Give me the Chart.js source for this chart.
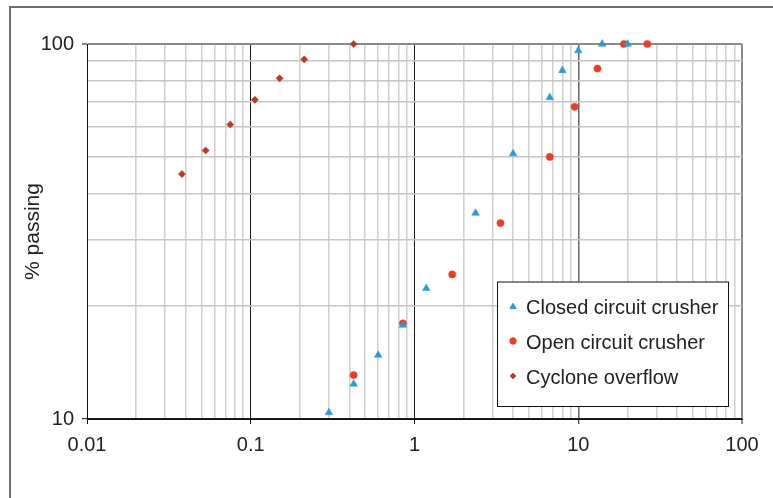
<!DOCTYPE html>
<html>
<head>
<meta charset="utf-8">
<script src="https://cdn.jsdelivr.net/npm/chart.js@4.4.1/dist/chart.umd.min.js"></script>
<style>
  html, body { margin: 0; padding: 0; background: #fff; }
  #wrap { width: 773px; height: 498px; }
</style>
</head>
<body>
<div id="wrap"><canvas id="c" width="773" height="498"></canvas></div>
<script>
// Particle size distributions: size (x) vs cumulative % passing (y)
const closedX = [0.3, 0.425, 0.6, 0.85, 1.18, 2.36, 4.0, 6.7, 8.0, 10.0, 14.0, 20.0];
const closedY = [10.4, 12.4, 14.8, 17.8, 22.3, 35.4, 51, 72, 85, 96, 100, 100];

const openX = [0.425, 0.85, 1.7, 3.35, 6.7, 9.5, 13.1, 19.0, 26.4];
const openY = [13.1, 18.0, 24.3, 33.3, 50, 68, 86, 100, 100];

const cycloneX = [0.038, 0.053, 0.075, 0.106, 0.15, 0.212, 0.425];
const cycloneY = [45, 52, 61, 71, 81, 91, 100];

const seriesNames = ['Closed circuit crusher', 'Open circuit crusher', 'Cyclone overflow'];

const xTickLabels = ['0.01', '0.1', '1', '10', '100'];
const yTickLabels = ['10', '100'];

const FONT = "'Liberation Sans', Arial, Helvetica, sans-serif";

function pts(xs, ys) { return xs.map((x, i) => ({ x: x, y: ys[i] })); }

// log ticks at 1..9 times each decade, labelled only at decades
function logTicks(labels) {
  const out = [];
  labels.forEach((lab, d) => {
    const base = parseFloat(lab);
    const last = d === labels.length - 1;
    for (let m = 1; m <= (last ? 1 : 9); m++) {
      out.push({ value: base * m, decade: m === 1, label: m === 1 ? lab : '' });
    }
  });
  return out;
}

const frame = {
  id: 'frame',
  beforeDraw(chart) {
    const ctx = chart.ctx;
    ctx.save();
    ctx.fillStyle = '#fff';
    ctx.fillRect(0, 0, chart.width, chart.height);
    ctx.strokeStyle = '#6e6e6e';
    ctx.lineWidth = 2;
    ctx.strokeRect(10, 7, chart.width + 20, chart.height + 20);
    ctx.restore();
  }
};

const boxLegend = {
  id: 'boxLegend',
  afterDraw(chart) {
    const ctx = chart.ctx;
    const x0 = 497, y0 = 281.5, w = 231, h = 124.5;
    ctx.save();
    ctx.fillStyle = '#fff';
    ctx.fillRect(x0, y0, w, h);
    ctx.strokeStyle = '#111';
    ctx.lineWidth = 1;
    ctx.strokeRect(x0 + 0.5, y0 + 0.5, w, h);
    const sizes = [3.6, 3.2, 2.8];
    chart.data.datasets.forEach((ds, i) => {
      const cy = 306 + i * 35;
      ctx.fillStyle = ds.backgroundColor;
      ctx.strokeStyle = ds.borderColor;
      ctx.lineWidth = 1;
      Chart.helpers.drawPoint(ctx, { pointStyle: ds.pointStyle, radius: sizes[i], rotation: 0, borderWidth: 1 }, 513, cy + (i === 0 ? 0.8 : 0));
      ctx.fillStyle = '#222';
      ctx.font = '20px ' + FONT;
      ctx.textBaseline = 'alphabetic';
      ctx.textAlign = 'left';
      ctx.fillText(seriesNames[i], 526, cy + 8.3);
    });
    ctx.restore();
  }
};

const xTicks = logTicks(xTickLabels);
const yTicks = logTicks(yTickLabels);

const near = (a, b) => Math.abs(a - b) < 1e-9;

new Chart(document.getElementById('c'), {
  type: 'scatter',
  data: {
    datasets: [
      {
        label: seriesNames[0],
        data: pts(closedX, closedY),
        pointStyle: 'triangle',
        pointRadius: 4.4,
        backgroundColor: '#2b9bd6',
        borderColor: '#2b9bd6',
        borderWidth: 0.5,
        clip: false
      },
      {
        label: seriesNames[1],
        data: pts(openX, openY),
        pointStyle: 'circle',
        pointRadius: 3.6,
        backgroundColor: '#ef3b26',
        borderColor: '#ef3b26',
        borderWidth: 0.5,
        clip: false
      },
      {
        label: seriesNames[2],
        data: pts(cycloneX, cycloneY),
        pointStyle: 'rectRot',
        pointRadius: 3.6,
        backgroundColor: '#bb3a25',
        borderColor: '#bb3a25',
        borderWidth: 0.5,
        clip: false
      }
    ]
  },
  options: {
    responsive: false,
    animation: false,
    devicePixelRatio: 1,
    layout: { padding: { left: 0, top: 44, right: 31, bottom: 0 } },
    plugins: {
      legend: { display: false },
      tooltip: { enabled: false }
    },
    scales: {
      x: {
        type: 'logarithmic',
        min: 0.01,
        max: 100,
        afterBuildTicks(scale) { scale.ticks = xTicks.map(t => ({ value: t.value, decade: t.decade, label: t.label })); },
        afterFit(scale) { scale.height = 79; },
        border: { display: true, color: '#111', width: 1 },
        grid: {
          color: (c) => {
            const t = c.tick;
            if (!t) return 'transparent';
            if (near(t.value, 100)) return '#8a8a8a';
            if (near(t.value, 10)) return '#666';
            if (t.decade) return '#1a1a1a';
            return '#d2d2d2';
          },
          lineWidth: (c) => {
            const t = c.tick;
            if (!t) return 1;
            if (near(t.value, 100)) return 2;
            if (near(t.value, 10)) return 1.5;
            if (t.decade) return 1;
            return 1.6;
          },
          tickColor: (c) => (c.tick && c.tick.decade ? '#111' : 'transparent'),
          tickWidth: 1,
          tickLength: 5
        },
        ticks: {
          autoSkip: false,
          maxRotation: 0,
          minRotation: 0,
          padding: 9,
          color: '#222',
          font: { family: FONT, size: 20 },
          callback(value, index, ticks) { return ticks[index].label; }
        }
      },
      y: {
        type: 'logarithmic',
        min: 10,
        max: 100,
        afterBuildTicks(scale) { scale.ticks = yTicks.map(t => ({ value: t.value, decade: t.decade, label: t.label })); },
        afterFit(scale) { scale.width = 87; },
        border: { display: true, color: '#111', width: 1 },
        grid: {
          color: (c) => {
            const t = c.tick;
            if (!t) return 'transparent';
            if (near(t.value, 100)) return '#8a8a8a';
            if (t.decade) return '#1a1a1a';
            return '#c6c6c6';
          },
          lineWidth: (c) => (c.tick && near(c.tick.value, 100) ? 2 : 1.4),
          tickColor: (c) => (c.tick && c.tick.decade ? '#111' : 'transparent'),
          tickWidth: 1,
          tickLength: 5
        },
        title: {
          display: true,
          text: '% passing',
          color: '#222',
          font: { family: FONT, size: 21 },
          padding: { top: 21, bottom: 0 }
        },
        ticks: {
          autoSkip: false,
          padding: 8,
          color: '#222',
          font: { family: FONT, size: 20 },
          callback(value, index, ticks) { return ticks[index].label; }
        }
      }
    }
  },
  plugins: [frame, boxLegend]
});
</script>
</body>
</html>
